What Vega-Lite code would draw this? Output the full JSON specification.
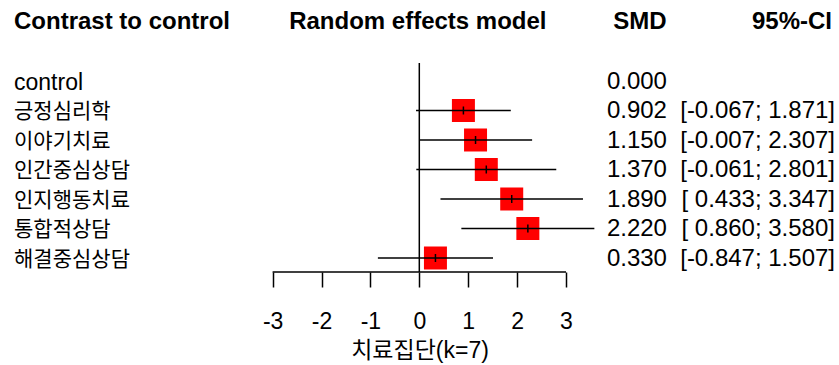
{
  "$schema": "https://vega.github.io/schema/vega-lite/v6.json",
  "width": 839,
  "height": 272,
  "autosize": {"type": "none"},
  "padding": {"left": 0, "top": 0, "right": 0, "bottom": 93},
  "background": "white",
  "config": {
    "view": {"stroke": null},
    "font": "Liberation Sans, Noto Sans CJK KR",
    "text": {"font": "Liberation Sans, Noto Sans CJK KR", "color": "black"}
  },
  "data": {
    "values": [
      {"name": "control", "smd": 0.0, "lower": null, "upper": null},
      {"name": "긍정심리학", "smd": 0.902, "lower": -0.067, "upper": 1.871},
      {"name": "이야기치료", "smd": 1.150, "lower": -0.007, "upper": 2.307},
      {"name": "인간중심상담", "smd": 1.370, "lower": -0.061, "upper": 2.801},
      {"name": "인지행동치료", "smd": 1.890, "lower": 0.433, "upper": 3.347},
      {"name": "통합적상담", "smd": 2.220, "lower": 0.860, "upper": 3.580},
      {"name": "해결중심상담", "smd": 0.330, "lower": -0.847, "upper": 1.507}
    ]
  },
  "layer": [
    {
      "data": {"values": [{}]},
      "mark": {"type": "rule", "color": "black", "strokeWidth": 1.5, "yOffset": -18, "y2Offset": 14},
      "encoding": {
        "x": {"datum": 0, "type": "quantitative", "scale": {"domain": [-8.575, 8.583], "nice": false, "zero": false},
          "axis": {
            "values": [-3, -2, -1, 0, 1, 2, 3],
            "labelExpr": "replace(datum.label, '\u2212', '-')",
            "domain": false, "grid": false,
            "tickSize": 15, "tickColor": "black", "tickWidth": 1.5,
            "labelFontSize": 23, "labelColor": "black", "labelPadding": 23,
            "labelFont": "Liberation Sans", "labelFlush": false, "labelOverlap": false,
            "title": "치료집단(k=7)", "titleFontSize": 23, "titleFontWeight": "normal",
            "titleColor": "black", "titlePadding": 6, "titleFont": "Liberation Sans, Noto Sans CJK KR"
          }
        },
        "y": {"datum": "control", "type": "nominal",
          "scale": {"type": "point", "domain": ["header", "blank", "control", "긍정심리학", "이야기치료", "인간중심상담", "인지행동치료", "통합적상담", "해결중심상담"], "padding": 0.61, "align": 0.611},
          "axis": null},
        "y2": {"datum": "해결중심상담"}
      }
    },
    {
      "data": {"values": [{}]},
      "mark": {"type": "rule", "color": "black", "strokeWidth": 1.5, "yOffset": 14},
      "encoding": {
        "x": {"datum": -3, "type": "quantitative"},
        "x2": {"datum": 3},
        "y": {"datum": "해결중심상담", "type": "nominal"}
      }
    },
    {
      "transform": [{"filter": "datum.lower != null"}],
      "mark": {"type": "square", "color": "#ff0000", "opacity": 1, "size": 529, "filled": true},
      "encoding": {
        "x": {"field": "smd", "type": "quantitative"},
        "y": {"field": "name", "type": "nominal"}
      }
    },
    {
      "transform": [{"filter": "datum.lower != null"}],
      "mark": {"type": "rule", "color": "black", "strokeWidth": 1.5},
      "encoding": {
        "x": {"field": "lower", "type": "quantitative"},
        "x2": {"field": "upper"},
        "y": {"field": "name", "type": "nominal"}
      }
    },
    {
      "transform": [{"filter": "datum.lower != null"}],
      "mark": {"type": "tick", "color": "black", "orient": "vertical", "size": 8, "thickness": 1.5, "opacity": 1},
      "encoding": {
        "x": {"field": "smd", "type": "quantitative"},
        "y": {"field": "name", "type": "nominal"}
      }
    },
    {
      "mark": {"type": "text", "align": "left", "baseline": "middle", "dy": 2},
      "encoding": {
        "x": {"datum": -8.288, "type": "quantitative"},
        "y": {"field": "name", "type": "nominal"},
        "text": {"field": "name"},
        "size": {"condition": {"test": "datum.name === 'control'", "value": 23}, "value": 21}
      }
    },
    {
      "mark": {"type": "text", "align": "right", "baseline": "middle", "fontSize": 24, "dy": 1},
      "encoding": {
        "x": {"datum": 5.065, "type": "quantitative"},
        "y": {"field": "name", "type": "nominal"},
        "text": {"field": "smd", "format": ".3f"}
      }
    },
    {
      "transform": [
        {"filter": "datum.lower != null"},
        {"calculate": "replace('[' + (datum.lower >= 0 ? ' ' : '') + format(datum.lower, '.3f') + '; ' + format(datum.upper, '.3f') + ']', '\u2212', '-')", "as": "ci"}
      ],
      "mark": {"type": "text", "align": "right", "baseline": "middle", "fontSize": 24, "dy": 1},
      "encoding": {
        "x": {"datum": 8.501, "type": "quantitative"},
        "y": {"field": "name", "type": "nominal"},
        "text": {"field": "ci"}
      }
    },
    {
      "data": {"values": [{}]},
      "mark": {"type": "text", "align": "left", "baseline": "middle", "fontSize": 24, "fontWeight": "bold", "text": "Contrast to control"},
      "encoding": {
        "x": {"datum": -8.288, "type": "quantitative"},
        "y": {"datum": "header", "type": "nominal"}
      }
    },
    {
      "data": {"values": [{}]},
      "mark": {"type": "text", "align": "center", "baseline": "middle", "fontSize": 24, "fontWeight": "bold", "text": "Random effects model"},
      "encoding": {
        "x": {"datum": -0.03, "type": "quantitative"},
        "y": {"datum": "header", "type": "nominal"}
      }
    },
    {
      "data": {"values": [{}]},
      "mark": {"type": "text", "align": "center", "baseline": "middle", "fontSize": 24, "fontWeight": "bold", "text": "SMD"},
      "encoding": {
        "x": {"datum": 4.513, "type": "quantitative"},
        "y": {"datum": "header", "type": "nominal"}
      }
    },
    {
      "data": {"values": [{}]},
      "mark": {"type": "text", "align": "left", "baseline": "middle", "fontSize": 24, "fontWeight": "bold", "text": "95%-CI"},
      "encoding": {
        "x": {"datum": 6.804, "type": "quantitative"},
        "y": {"datum": "header", "type": "nominal"}
      }
    }
  ]
}
